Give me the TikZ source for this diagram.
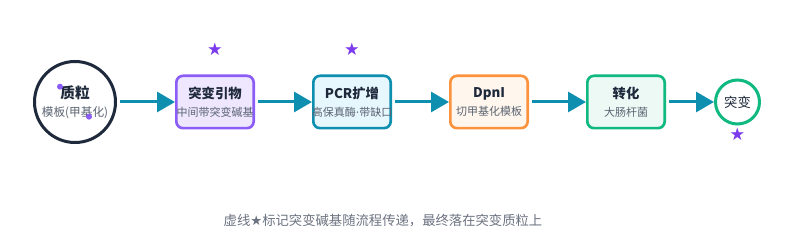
\documentclass[tikz,border=0pt]{standalone}
\usepackage{fontspec}
\setmainfont{Noto Sans CJK SC}
\newfontfamily\symfont{DejaVu Sans}
\usetikzlibrary{positioning,arrows.meta}
\definecolor{inkdark}{HTML}{1E293B}
\definecolor{inksub}{HTML}{5B6472}
\definecolor{inkcap}{HTML}{6B7280}
\definecolor{flowteal}{HTML}{0E8FB0}
\definecolor{mutpurple}{HTML}{8B5CF6}
\definecolor{mutstar}{HTML}{7C3AED}
\definecolor{dpniorange}{HTML}{FB923C}
\definecolor{ecoligreen}{HTML}{10B981}
\tikzset{
  stepbox/.style={draw, rounded corners=5pt, line width=2pt, align=center,
    text width=56pt, minimum height=39.25pt, inner sep=1pt,
    font=\fontsize{10}{12}\selectfont, text=inkdark},
  flowarrow/.style={-{Triangle[length=13.5pt, width=15pt]}, line width=2.25pt,
    draw=flowteal, shorten <=2.5pt},
  starmark/.style={font=\symfont\fontsize{13}{13}\selectfont, text=mutstar, inner sep=0pt},
  mutdot/.style={circle, fill=mutpurple, inner sep=0pt, minimum size=4.5pt},
}
\newcommand{\steptext}[2]{\textbf{#1}\\[1.5pt]{\fontsize{8.25}{10}\selectfont\color{inksub}\makebox[56pt]{#2}}}

\begin{document}
\begin{tikzpicture}
  \useasboundingbox (0,0) rectangle (589.5pt,-181.5pt);
  % 质粒 -> 引物 -> PCR -> DpnI -> 转化 -> 突变
  \node[circle, draw=inkdark, line width=2.25pt, fill=white, minimum size=60.75pt, inner sep=0pt,
    align=center, text=inkdark, font=\fontsize{11}{13}\selectfont] (plasmid) at (56.25pt,-76.5pt)
    {\textbf{质粒}\\[0.5pt]{\fontsize{8.75}{10}\selectfont\color{inksub}模板(甲基化)}};
  \node[stepbox, draw=mutpurple, fill=mutpurple!15, right=43.5pt of plasmid] (primer) {\steptext{突变引物}{中间带突变碱基}};
  \node[stepbox, draw=flowteal, fill=cyan!10, right=42.75pt of primer] (pcr) {\steptext{PCR扩增}{高保真酶{\symfont ·}带缺口}};
  \node[stepbox, draw=dpniorange, fill=orange!7, right=42.75pt of pcr] (dpni) {\steptext{DpnI}{切甲基化模板}};
  \node[stepbox, draw=ecoligreen, fill=ecoligreen!8, right=42.75pt of dpni] (transform) {\steptext{转化}{大肠杆菌}};
  \node[circle, draw=ecoligreen, line width=2.25pt, fill=white, minimum size=33pt, inner sep=0pt,
    text=inkdark, font=\fontsize{10}{12}\selectfont, right=36pt of transform] (mutant) {突变};

  \draw[flowarrow] (plasmid) -- (primer);
  \draw[flowarrow] (primer) -- (pcr);
  \draw[flowarrow] (pcr) -- (dpni);
  \draw[flowarrow] (dpni) -- (transform);
  \draw[flowarrow] (transform) -- (mutant);

  % 突变碱基
  \node[mutdot] (dotA) at ([shift={(-11.25pt,11.5pt)}]plasmid.center) {};
  \node[mutdot] (dotB) at ([shift={(10.5pt,-11pt)}]plasmid.center) {};
  \node[starmark, above=14pt of primer] (starA) {★};
  \node[starmark, above=14pt of pcr] (starB) {★};
  \node[starmark, below=1.5pt of mutant] (starC) {★};

  \node[font=\fontsize{10}{12}\selectfont, text=inkcap] (caption) at (287.25pt,-165.75pt)
    {虚线{\symfont ★}标记突变碱基随流程传递，最终落在突变质粒上};
\end{tikzpicture}
\end{document}
